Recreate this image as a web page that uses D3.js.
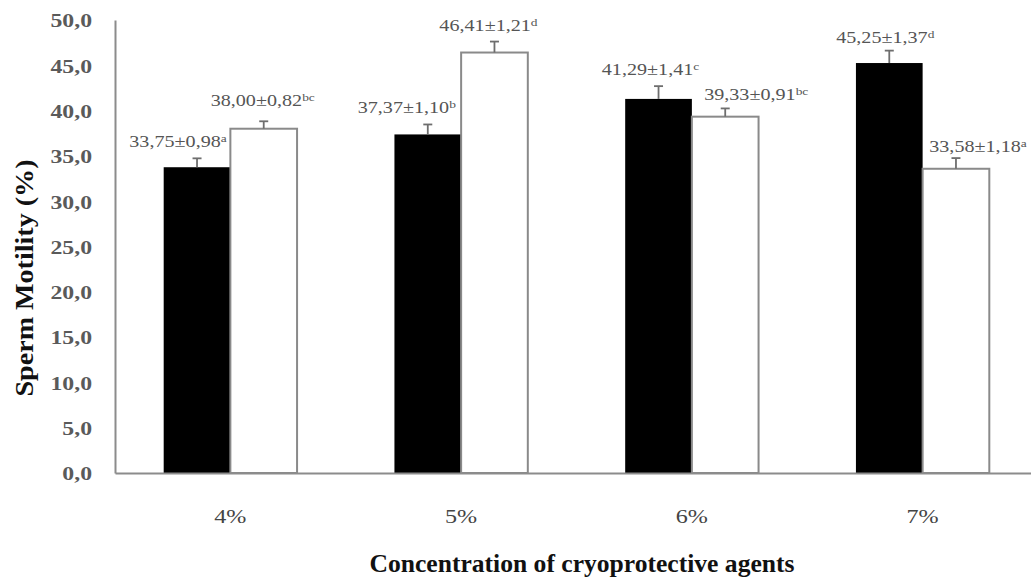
<!DOCTYPE html>
<html>
<head>
<meta charset="utf-8">
<script src="https://cdn.jsdelivr.net/npm/d3@7"></script>
<style>
  html, body { margin: 0; padding: 0; background: #fff; }
  svg { display: block; }
</style>
</head>
<body>
<svg id="chart" width="1031" height="584"></svg>
<script>
// ---- data ----
const categories = ["4%", "5%", "6%", "7%"];
const seriesA = [33.75, 37.37, 41.29, 45.25];
const seriesAErr = [0.98, 1.10, 1.41, 1.37];
const seriesALetters = ["a", "b", "c", "d"];
const seriesB = [38.00, 46.41, 39.33, 33.58];
const seriesBErr = [0.82, 1.21, 0.91, 1.18];
const seriesBLetters = ["bc", "d", "bc", "a"];
const yTicks = [0, 5, 10, 15, 20, 25, 30, 35, 40, 45, 50];
const yTitle = "Sperm Motility (%)";
const xTitle = "Concentration of cryoprotective agents";

(function () {
// ---- layout ----
const mLeft = 115, mBottom = 473, mTop = 20, mRight = 1038;
const FONT = "'Liberation Serif', 'Times New Roman', serif";
const svg = d3.select("#chart");

const x0 = d3.scaleBand().domain(categories).range([mLeft, mRight]).padding(0);
const x1 = d3.scaleBand().domain(["A", "B"])
  .range([x0.bandwidth() * 0.211, x0.bandwidth() * 0.789]).padding(0);
const y = d3.scaleLinear().domain([0, 50]).range([mBottom, mTop]);

const fmt = v => d3.format(".2f")(v).replace(".", ",");

const rows = categories.map((c, i) => [
  { cat: c, key: "A", v: seriesA[i], e: seriesAErr[i], l: seriesALetters[i] },
  { cat: c, key: "B", v: seriesB[i], e: seriesBErr[i], l: seriesBLetters[i] }
]).flat();

// label nudges (relative to error-bar top / bar centre)
const nudge = {
  A: [[-19, -11], [-21, -11], [-8, -11], [-4, -8]],
  B: [[-1, -15], [-6, -11], [31, -8], [22, -6]]
};

// bars
svg.append("g").selectAll("rect").data(rows).join("rect")
  .attr("x", d => x0(d.cat) + x1(d.key))
  .attr("y", d => y(d.v))
  .attr("width", x1.bandwidth())
  .attr("height", d => y(0) - y(d.v))
  .attr("fill", d => d.key === "A" ? "#000" : "#fff")
  .attr("stroke", d => d.key === "A" ? "#000" : "#8a8a8a")
  .attr("stroke-width", d => d.key === "A" ? 0 : 2);

// error bars
const eb = svg.append("g").attr("stroke", "#6e6e6e").attr("stroke-width", 1.8);
rows.forEach(d => {
  const cx = x0(d.cat) + x1(d.key) + x1.bandwidth() / 2;
  eb.append("line").attr("x1", cx).attr("x2", cx).attr("y1", y(d.v)).attr("y2", y(d.v + d.e));
  eb.append("line").attr("x1", cx - 4.5).attr("x2", cx + 4.5).attr("y1", y(d.v + d.e)).attr("y2", y(d.v + d.e));
});

// value labels
rows.forEach(d => {
  const i = categories.indexOf(d.cat);
  const [dx, dy] = nudge[d.key][i];
  const cx = x0(d.cat) + x1(d.key) + x1.bandwidth() / 2 + dx;
  const ty = y(d.v + d.e) + dy;
  const t = svg.append("text")
    .attr("transform", `translate(${cx},${ty}) scale(1.22,1)`)
    .attr("text-anchor", "middle")
    .style("font-family", FONT)
    .style("font-size", "16.5px")
    .attr("fill", "#555");
  t.append("tspan").text(fmt(d.v) + "\u00b1" + fmt(d.e));
  t.append("tspan").attr("dy", -5).style("font-size", "11px").text(d.l);
});

// y axis
const yAxis = svg.append("g").attr("transform", `translate(${mLeft},0)`)
  .call(d3.axisLeft(y).tickValues(yTicks).tickSize(0).tickSizeOuter(0)
    .tickFormat(d => d3.format(".1f")(d).replace(".", ",")));
yAxis.attr("font-family", null);
yAxis.select(".domain").attr("stroke", "#8c8c8c").attr("stroke-width", 2);
yAxis.selectAll(".tick text")
  .attr("x", 0).attr("dy", "0.36em")
  .attr("transform", "translate(-23,0) scale(1.25,1)")
  .attr("text-anchor", "end")
  .style("font-family", FONT)
  .style("font-size", "19px")
  .style("font-weight", "bold")
  .attr("fill", "#5a5a5a");

// x axis
const xAxis = svg.append("g").attr("transform", `translate(0,${mBottom})`)
  .call(d3.axisBottom(x0).tickSize(0).tickSizeOuter(0));
xAxis.attr("font-family", null);
xAxis.select(".domain").attr("stroke", "#8c8c8c").attr("stroke-width", 2.2);
xAxis.selectAll(".tick text")
  .attr("y", 0).attr("dy", 0)
  .attr("transform", "translate(0,50) scale(1.27,1)")
  .style("font-family", FONT)
  .style("font-size", "19px")
  .attr("fill", "#444");

// axis titles
svg.append("text")
  .attr("transform", `translate(33,278) rotate(-90)`)
  .attr("text-anchor", "middle")
  .style("font-family", FONT)
  .style("font-weight", "bold")
  .style("font-size", "26px")
  .attr("fill", "#111")
  .attr("textLength", 237)
  .attr("lengthAdjust", "spacingAndGlyphs")
  .text(yTitle);

svg.append("text")
  .attr("x", 582).attr("y", 572)
  .attr("text-anchor", "middle")
  .style("font-family", FONT)
  .style("font-weight", "bold")
  .style("font-size", "26px")
  .attr("fill", "#111")
  .attr("textLength", 425)
  .attr("lengthAdjust", "spacingAndGlyphs")
  .text(xTitle);
})();
</script>
</body>
</html>
